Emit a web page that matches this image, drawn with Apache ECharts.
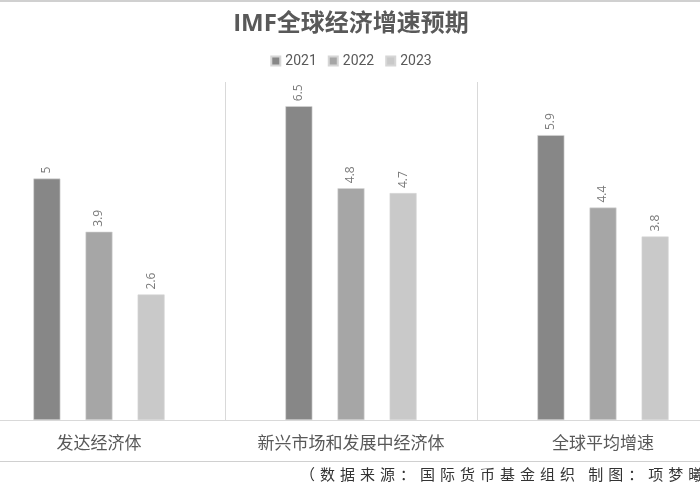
<!DOCTYPE html>
<html style="height: 100%">
<head>
<meta charset="utf-8">
<title>IMF全球经济增速预期</title>
<script src="https://cdn.jsdelivr.net/npm/echarts@6/dist/echarts.min.js"></script>
</head>
<body style="margin: 0; overflow: hidden">
<!-- chart is a bit wider than the window: the original picture is cropped on both sides -->
<div id="container" style="height: 500px; width: 756px; margin-left: -27px;"></div>
<script type="text/javascript">

var categories = ['发达经济体', '新兴市场和发展中经济体', '全球平均增速'];
var years = ['2021', '2022', '2023'];
var v2021 = [5, 6.5, 5.9];
var v2022 = [3.9, 4.8, 4.4];
var v2023 = [2.6, 4.7, 3.8];
var colors = ['#878787', '#a6a6a6', '#c9c9c9'];
var source = '（数据来源：国际货币基金组织 制图：项梦曦）';

var myChart = echarts.init(document.getElementById('container'));

// spread the source line out a little, like the original
var spaced = source.split('').join('\u2004');

function makeSeries(name, data, color) {
    return {
        name: name,
        type: 'bar',
        data: data,
        barWidth: 27,
        barGap: '93%',
        itemStyle: {color: color, borderColor: '#d6d6d6', borderWidth: 0.6},
        label: {
            show: true,
            position: 'top',
            rotate: 90,
            align: 'left',
            verticalAlign: 'middle',
            distance: 5,
            fontSize: 12,
            color: '#7a7a7a',
            fontFamily: 'Open Sans'
        },
        animation: false
    };
}

var option = {
    color: colors,
    title: {
        text: 'IMF全球经济增速预期',
        left: 'center',
        top: 7,
        textStyle: {fontSize: 24, fontWeight: 'bold', color: '#595959', fontFamily: 'Open Sans, Noto Sans CJK SC'}
    },
    legend: {
        data: years,
        top: 49,
        left: 'center',
        itemWidth: 9,
        itemHeight: 9,
        itemGap: 11,
        icon: 'rect',
        textStyle: {fontSize: 14, color: '#595959', fontFamily: 'Roboto'}
    },
    grid: {left: 0, right: 0, top: 82, bottom: 80, containLabel: false},
    xAxis: {
        type: 'category',
        data: categories,
        axisLine: {lineStyle: {color: '#d9d9d9', width: 1}},
        axisTick: {show: false},
        splitLine: {show: true, lineStyle: {color: '#d9d9d9', width: 1}},
        axisLabel: {fontSize: 17, color: '#595959', margin: 14, fontFamily: 'Noto Sans CJK SC'}
    },
    yAxis: {
        type: 'value',
        min: 0,
        max: 7,
        show: false,
        splitLine: {show: false}
    },
    graphic: [
        {type: 'line', shape: {x1: 0, y1: 1, x2: 756, y2: 1}, style: {stroke: '#d0d0d0', lineWidth: 2}},
        {type: 'line', shape: {x1: 0, y1: 461.5, x2: 756, y2: 461.5}, style: {stroke: '#d0d0d0', lineWidth: 1}},
        {type: 'text', left: 327, top: 467, style: {text: spaced, fontSize: 15, fill: '#333', fontFamily: 'Noto Sans CJK SC'}}
    ],
    series: [
        makeSeries(years[0], v2021, colors[0]),
        makeSeries(years[1], v2022, colors[1]),
        makeSeries(years[2], v2023, colors[2])
    ]
};

myChart.setOption(option, true);
</script>
</body>
</html>
